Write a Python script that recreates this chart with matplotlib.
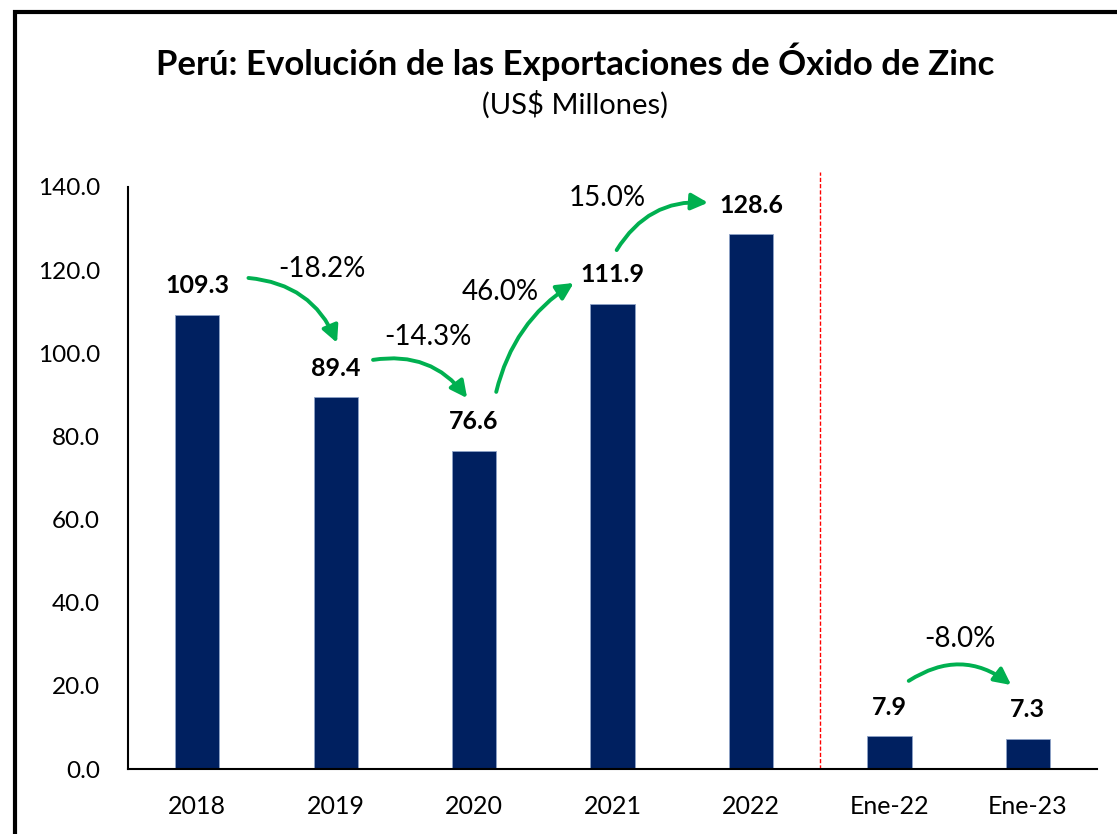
import matplotlib.pyplot as plt
from matplotlib.patches import Rectangle

plt.rcParams['font.family'] = ['Lato', 'DejaVu Sans']

# data
categories = ['2018', '2019', '2020', '2021', '2022', 'Ene-22', 'Ene-23']
values = [109.3, 89.4, 76.6, 111.9, 128.6, 7.9, 7.3]
yticks = [0, 20, 40, 60, 80, 100, 120, 140]

# growth arrows: label, label position, arrow start, arrow end, curvature
pct_labels = ['-18.2%', '-14.3%', '46.0%', '15.0%', '-8.0%']
pct_pos = [(0.90, 120.3), (1.67, 103.8), (2.19, 114.7), (2.96, 137.3), (5.51, 31.3)]
arrow_from = [(0.37, 118.1), (1.27, 98.4), (2.16, 90.7), (3.03, 124.8), (5.14, 21.2)]
arrow_to = [(1.01, 102.5), (1.95, 89.2), (2.72, 116.9), (3.69, 136.2), (5.88, 20.2)]
arrow_rad = [-0.3, -0.3, -0.2, -0.3, -0.35]

navy = '#002060'
green = '#00B050'

fig = plt.figure(figsize=(11.17, 8.34), dpi=100)
ax = fig.add_axes([0.1146, 0.0779, 0.8675, 0.698])

x = range(len(categories))
ax.bar(x, values, width=0.32, color=navy, edgecolor='#8EA3C8', linewidth=0.6)

for i, v in enumerate(values):
    ax.annotate(f'{v:.1f}', (i, v), xytext=(0, 21), textcoords='offset points',
                ha='center', va='center', fontsize=18, fontweight='bold')

for lab, pos, a, b, r in zip(pct_labels, pct_pos, arrow_from, arrow_to, arrow_rad):
    ax.annotate('', xy=b, xytext=a,
                arrowprops=dict(arrowstyle='-|>,head_length=1.0,head_width=0.5',
                                color=green, lw=2.8, shrinkA=0, shrinkB=0,
                                connectionstyle=f'arc3,rad={r}'),
                annotation_clip=False)
    ax.text(pos[0], pos[1], lab, ha='center', va='center', fontsize=20)

# separator between annual and monthly data
ax.plot([4.5, 4.5], [0, 143.6], color='red', ls=(0, (3, 1.5)), lw=1, clip_on=False)

ax.set_xlim(-0.5, 6.5)
ax.set_ylim(0, 140)
ax.set_yticks(yticks)
ax.set_yticklabels([f'{t:.1f}' for t in yticks])
ax.set_xticks(list(x))
ax.set_xticklabels(categories)
ax.tick_params(axis='y', length=0, pad=20, labelsize=17.5)
ax.tick_params(axis='x', length=0, pad=19, labelsize=18)
for s in ['top', 'right']:
    ax.spines[s].set_visible(False)
ax.spines['left'].set_linewidth(1.5)
ax.spines['bottom'].set_linewidth(1.5)

fig.text(0.515, 0.926, 'Perú: Evolución de las Exportaciones de Óxido de Zinc',
         ha='center', va='center', fontsize=25, fontweight='bold')
fig.text(0.515, 0.874, '(US$ Millones)', ha='center', va='center', fontsize=21)

# outer frame (cut off on the right and bottom)
fig.patches.append(Rectangle((15 / 1117, -0.1), 1.2, 1.1 - 12 / 834, fill=False,
                             edgecolor='black', linewidth=3, transform=fig.transFigure))

fig.savefig('out.png', dpi=100)
